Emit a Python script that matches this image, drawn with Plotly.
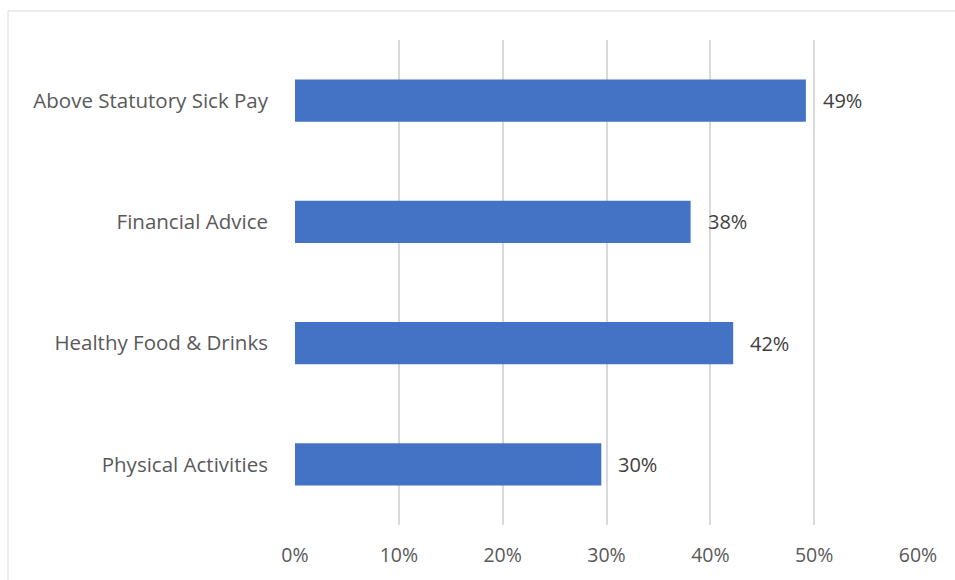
import plotly.graph_objects as go

categories = ["Physical Activities", "Healthy Food & Drinks", "Financial Advice", "Above Statutory Sick Pay"]
values = [0.295, 0.422, 0.381, 0.492]
labels = ["30%", "42%", "38%", "49%"]
tick_vals = [0, 0.1, 0.2, 0.3, 0.4, 0.5, 0.6]
tick_text = ["0%", "10%", "20%", "30%", "40%", "50%", "60%"]

FONT = "Open Sans"

fig = go.Figure(go.Bar(
    x=values, y=categories, orientation="h",
    marker=dict(color="#4472C4", line=dict(width=0)),
    hoverinfo="x+y",
))

for c, v, t in zip(categories, values, labels):
    fig.add_annotation(x=v, y=c, text=t, showarrow=False, xanchor="left", xshift=15,
                       font=dict(family=FONT, size=20, color="#404040"))

fig.update_layout(
    width=955, height=580,
    margin=dict(l=295, r=37, t=40, b=55),
    paper_bgcolor="white", plot_bgcolor="white",
    bargap=0.65,
    showlegend=False,
    font=dict(family=FONT, size=20, color="#595959"),
    xaxis=dict(range=[0, 0.6], tickvals=tick_vals, ticktext=tick_text,
               showgrid=True, gridcolor="#D9D9D9", gridwidth=1.5,
               zeroline=False, showline=False, ticks="",
               ticklabelstandoff=16,
               tickfont=dict(family=FONT, size=19.5, color="#595959")),
    yaxis=dict(showgrid=False, zeroline=False, showline=False, ticks="",
               ticklabelstandoff=26,
               tickfont=dict(family=FONT, size=20.5, color="#595959")),
    shapes=[
        dict(type="line", xref="paper", yref="paper", x0=-287/623, x1=1.2, y0=1+29/485, y1=1+29/485,
             line=dict(color="#D9D9D9", width=1)),
        dict(type="line", xref="paper", yref="paper", x0=-287/623, x1=-287/623, y0=1+29/485, y1=-0.2,
             line=dict(color="#D9D9D9", width=1)),
    ],
)

fig.write_html("out.html")
